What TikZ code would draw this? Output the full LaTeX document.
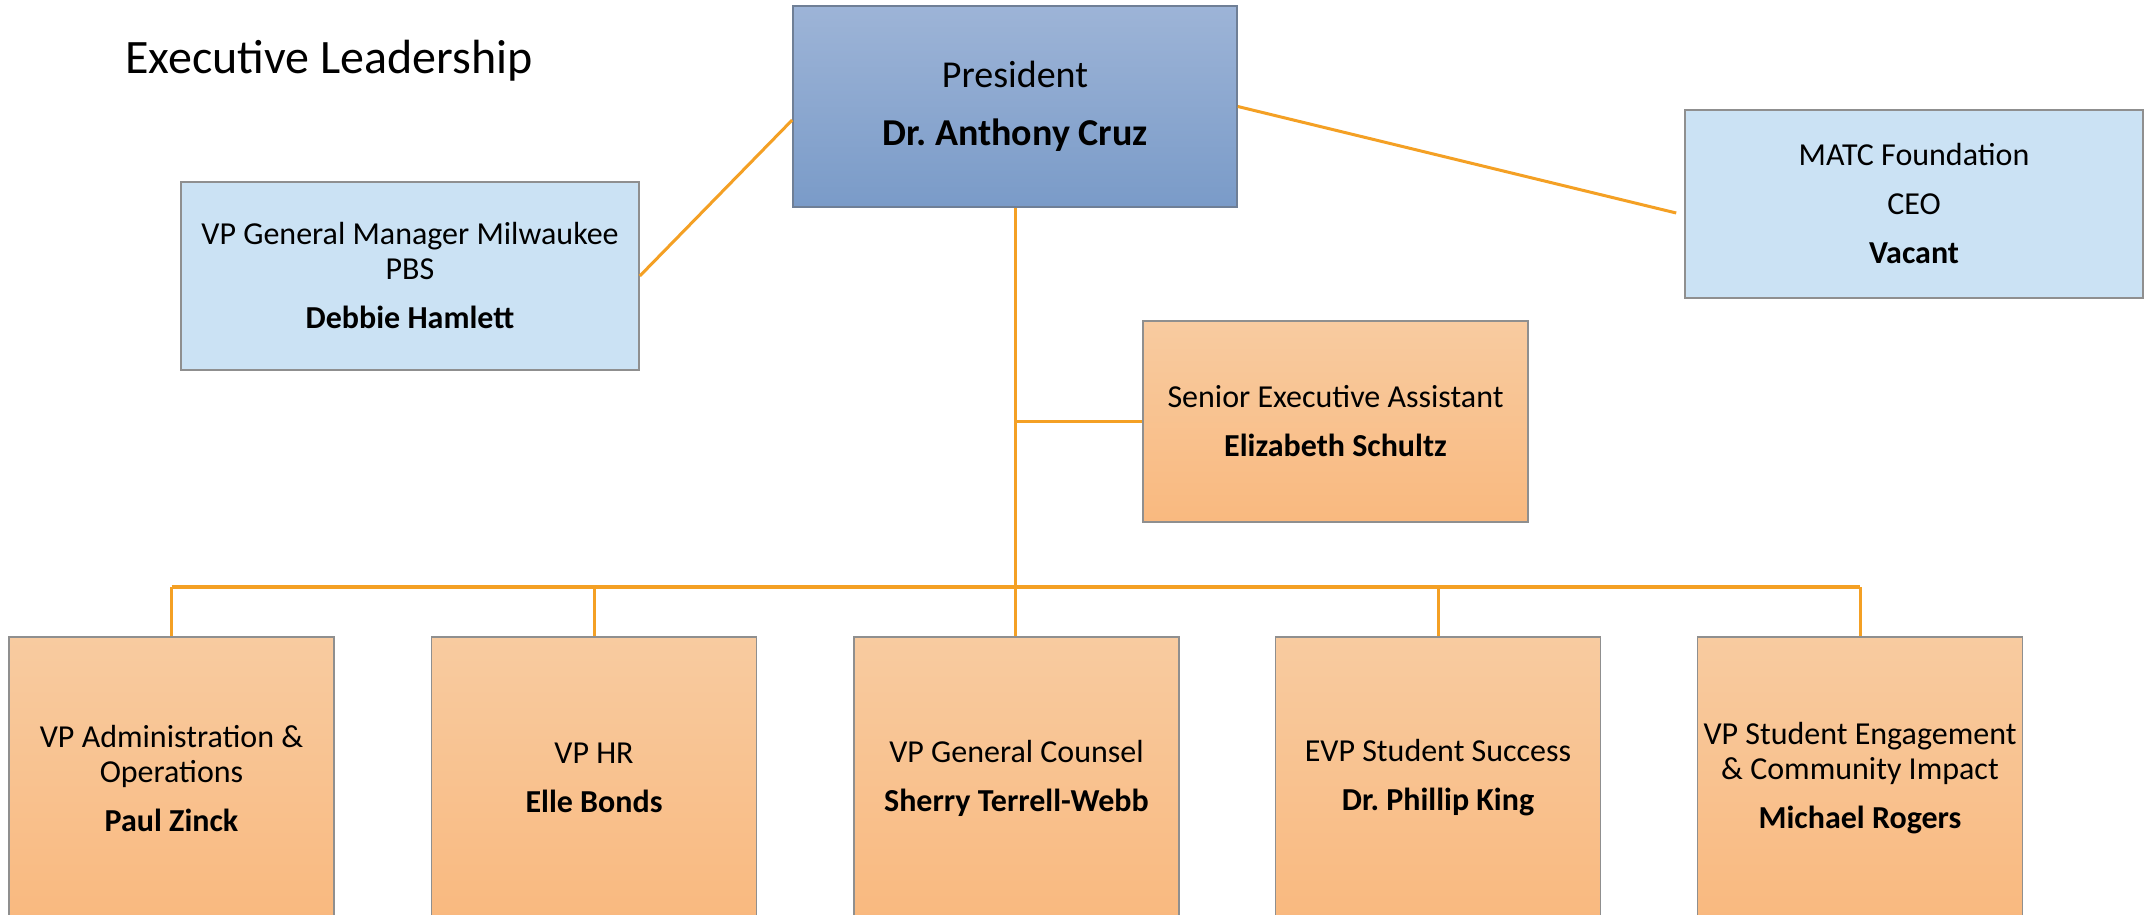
\documentclass[tikz,border=0pt]{standalone}
\usepackage{fontspec}
\setmainfont{Carlito}
\frenchspacing
\definecolor{presTop}{HTML}{9DB4D7}
\definecolor{presBot}{HTML}{7A9BC8}
\definecolor{presLine}{HTML}{6F7F96}
\definecolor{lblue}{HTML}{CBE2F4}
\definecolor{orTop}{HTML}{F8CBA0}
\definecolor{orBot}{HTML}{F9B97F}
\definecolor{boxLine}{HTML}{8F8F8F}
\definecolor{conn}{HTML}{F4A024}
\tikzset{
  box/.style={rectangle, draw=boxLine, line width=1.6pt, inner sep=0pt, align=center,
    font=\fontsize{32}{35}\selectfont},
  presbox/.style={box, draw=presLine, top color=presTop, bottom color=presBot,
    font=\fontsize{38}{45}\selectfont},
  bluebox/.style={box, fill=lblue},
  orbox/.style={box, top color=orTop, bottom color=orBot},
  link/.style={draw=conn, line width=3pt},
  buslink/.style={draw=conn, line width=3.6pt}
}
\begin{document}
\begin{tikzpicture}[x=1pt, y=-1pt]
\path[use as bounding box, clip] (0,0) rectangle (2144,915);
\fill[white] (0,0) rectangle (2144,915);

\node[anchor=base west, font=\fontsize{48}{56}\selectfont] (title) at (122,74) {Executive Leadership};

\node[presbox, minimum width=444pt, minimum height=201pt] (pres) at (1015,106.5)
  {President\\[13pt]\textbf{Dr. Anthony Cruz}};

\node[bluebox, minimum width=458pt, minimum height=188pt] (vpgm) at (410,276)
  {VP General Manager Milwaukee\\PBS\\[14pt]\textbf{Debbie Hamlett}};

\node[bluebox, minimum width=458pt, minimum height=188pt] (matc) at (1914,204)
  {MATC Foundation\\[14pt]CEO\\[14pt]\textbf{Vacant}};

\node[orbox, minimum width=385pt, minimum height=201pt] (sea) at (1335.5,421.5)
  {Senior Executive Assistant\\[14pt]\textbf{Elizabeth Schultz}};

\node[orbox, minimum width=325pt, minimum height=282pt] (b1) at (171.5,778)
  {VP Administration \&\\Operations\\[14pt]\textbf{Paul Zinck}};
\node[orbox, minimum width=325pt, minimum height=282pt] (b2) at (594,778)
  {VP HR\\[14pt]\textbf{Elle Bonds}};
\node[orbox, minimum width=325pt, minimum height=282pt] (b3) at (1016.5,778)
  {VP General Counsel\\[14pt]\textbf{Sherry Terrell-Webb}};
\node[orbox, minimum width=325pt, minimum height=282pt] (b4) at (1438,778)
  {EVP Student Success\\[14pt]\textbf{Dr. Phillip King}};
\node[orbox, minimum width=325pt, minimum height=282pt] (b5) at (1860,778)
  {VP Student Engagement\\\& Community Impact\\[14pt]\textbf{Michael Rogers}};

\coordinate (bus) at (0,587);

\draw[link] (vpgm.east) -- ([yshift=-13.5pt]pres.west);
\draw[link] (pres.east) -- ([xshift=-8pt, yshift=-9pt]matc.west);
\draw[link] (pres.south) -- (pres.south |- b3.north);
\draw[link] (pres.south |- sea.west) -- (sea.west);
\draw[buslink] (b1.north |- bus) -- (b5.north |- bus);
\draw[link] (b1.north) -- (b1.north |- bus);
\draw[link] (b2.north) -- (b2.north |- bus);
\draw[link] (b4.north) -- (b4.north |- bus);
\draw[link] (b5.north) -- (b5.north |- bus);
\end{tikzpicture}
\end{document}
